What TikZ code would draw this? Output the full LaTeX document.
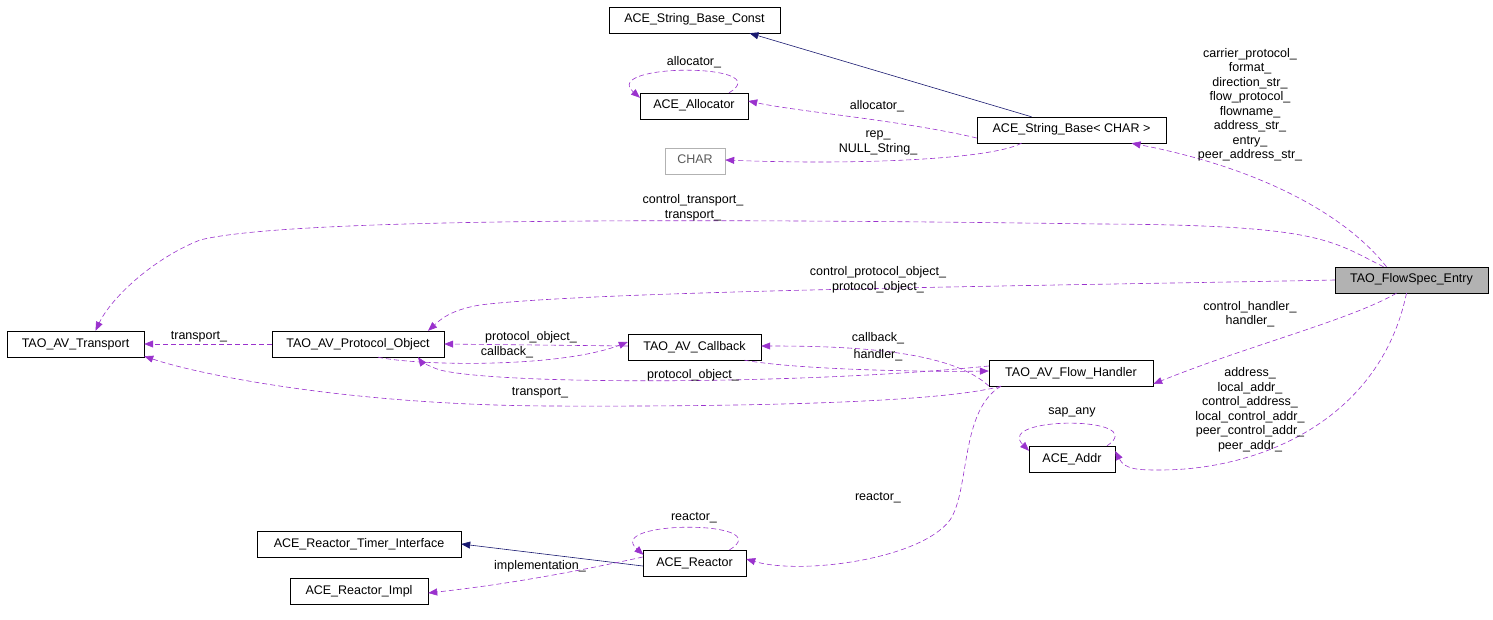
\documentclass[tikz,border=0pt]{standalone}
\usepackage{fontspec}
\setmainfont{Liberation Sans}
\usetikzlibrary{arrows.meta}
\definecolor{pur}{HTML}{9A32CD}
\definecolor{nav}{HTML}{191970}
\begin{document}
\begin{tikzpicture}[x=1pt,y=-1pt,
  every node/.style={font=\fontsize{12.5}{14.5}\selectfont},
  box/.style={draw,inner sep=0pt,minimum height=26pt,text height=9pt,text depth=3pt},
  lab/.style={align=center,inner sep=0pt},
  use/.style={draw=pur,line width=0.6pt,dash pattern=on 5pt off 3pt,-{Triangle[length=9pt,width=7pt]},fill=none},
  inh/.style={draw=nav,line width=0.6pt,-{Triangle[length=9pt,width=7pt]},fill=none},
]
\useasboundingbox (0,0) rectangle (1493,620);
\node[box,minimum width=171pt] (SBC) at (694.5,20) {ACE\_String\_Base\_Const};
\node[box,minimum width=108pt] (AL) at (694,106) {ACE\_Allocator};
\node[box,minimum width=60pt,draw=gray!60,text=gray!70!black] (CH) at (695,161) {CHAR};
\node[box,minimum width=189pt] (SB) at (1071.5,130) {ACE\_String\_Base< CHAR >};
\node[box,minimum width=153pt,fill=gray!60] (FS) at (1411.5,280) {TAO\_FlowSpec\_Entry};
\node[box,minimum width=137pt] (TR) at (75.5,344) {TAO\_AV\_Transport};
\node[box,minimum width=172pt] (PO) at (358,344) {TAO\_AV\_Protocol\_Object};
\node[box,minimum width=133pt] (CB) at (694.5,347) {TAO\_AV\_Callback};
\node[box,minimum width=164pt] (FH) at (1071,373) {TAO\_AV\_Flow\_Handler};
\node[box,minimum width=86pt] (AD) at (1072,459) {ACE\_Addr};
\node[box,minimum width=204pt] (RT) at (359,544) {ACE\_Reactor\_Timer\_Interface};
\node[box,minimum width=103pt] (RE) at (694.5,563) {ACE\_Reactor};
\node[box,minimum width=138pt] (RI) at (359,591) {ACE\_Reactor\_Impl};

% inheritance
\draw[inh] ([xshift=-40pt]SB.north) -- ([xshift=55pt]SBC.south);
\draw[inh] ([yshift=-3pt]RE.west) -- (RT.east);

% self loops
\draw[use] ([xshift=35pt]AL.north) .. controls +(50pt,30pt) and +(-40pt,35pt) .. ([xshift=-54pt,yshift=-5pt]AL.north);
\node[lab] (lAL) at (694,62) {allocator\_};
\draw[use] ([xshift=35pt]AD.north) .. controls +(45pt,30pt) and +(-35pt,35pt) .. ([xshift=-43pt,yshift=-5pt]AD.north);
\node[lab] (lAD) at (1072,412) {sap\_any};
\draw[use] ([xshift=35pt]RE.north) .. controls +(50pt,30pt) and +(-40pt,35pt) .. ([xshift=-51pt,yshift=-5pt]RE.north);
\node[lab] (lRE) at (694,518) {reactor\_};

% string base
\draw[use] ([yshift=-8pt]SB.west) .. controls (900,120) and (800,112) .. ([yshift=5pt]AL.east);
\node[lab] (l1) at (877,106) {allocator\_};
\draw[use] ([xshift=-50pt]SB.south) .. controls (990,160) and (850,165) .. ([yshift=1pt]CH.east);
\node[lab] (l2) at (878,143) {rep\_\\NULL\_String\_};

% flowspec edges
\draw[use] ([xshift=-25pt]FS.north) .. controls (1350,220) and (1270,170) .. ([xshift=60pt]SB.south);
\node[lab] (l3) at (1250,105) {carrier\_protocol\_\\format\_\\direction\_str\_\\flow\_protocol\_\\flowname\_\\address\_str\_\\entry\_\\peer\_address\_str\_};
\draw[use] ([xshift=-28pt]FS.north) .. controls (1330,240) and (1320,225) .. (1100,224)
  .. controls (800,220) and (300,215) .. (200,240) .. controls (150,260) and (110,300) .. ([xshift=20pt]TR.north);
\node[lab] (l4) at (693,208) {control\_transport\_\\transport\_};
\draw[use] (FS.west) .. controls (1100,285) and (600,290) .. (480,305) .. controls (450,310) and (440,320) .. ([xshift=70pt]PO.north);
\node[lab] (l5) at (878,280) {control\_protocol\_object\_\\protocol\_object\_};
\draw[use] ([xshift=-15pt]FS.south) .. controls (1350,320) and (1250,345) .. ([yshift=-11pt]FH.east);
\node[lab] (l6) at (1250,314) {control\_handler\_\\handler\_};
\draw[use] ([xshift=-5pt]FS.south) .. controls (1380,420) and (1260,470) .. (1160,470) .. controls (1140,470) and (1125,470) .. ([yshift=8pt]AD.east);
\node[lab] (l7) at (1250,410) {address\_\\local\_addr\_\\control\_address\_\\local\_control\_addr\_\\peer\_control\_addr\_\\peer\_addr\_};

% protocol object / callback / transport
\draw[use] (PO.west) -- (TR.east);
\node[lab] (l8) at (199,337) {transport\_};
\draw[use] ([yshift=1pt]CB.west) -- (PO.east);
\node[lab] (l9) at (531,337) {protocol\_object\_};
\draw[use] ([xshift=20pt]PO.south) .. controls (420,366) and (560,368) .. ([yshift=5pt]CB.west);
\node[lab] (l10) at (507,352) {callback\_};

% flow handler
\draw[use] ([yshift=-13pt]FH.west) .. controls (950,350) and (850,346) .. ([yshift=1pt]CB.east);
\node[lab] (l11) at (878,338) {callback\_};
\draw[use] ([xshift=50pt]CB.south) .. controls (800,370) and (930,372) .. ([yshift=2pt]FH.west);
\node[lab] (l12) at (878,355) {handler\_};
\draw[use] ([yshift=7pt]FH.west) .. controls (800,385) and (500,385) .. (440,370) .. controls (425,365) and (420,360) .. ([xshift=60pt]PO.south);
\node[lab] (l13) at (693,375) {protocol\_object\_};
\draw[use] ([xshift=-70pt]FH.south) .. controls (950,400) and (800,407) .. (550,406) .. controls (350,405) and (200,375) .. ([yshift=1pt]TR.south east);
\node[lab] (l14) at (540,393) {transport\_};
\draw[use] ([xshift=-70pt]FH.south) .. controls (960,410) and (970,490) .. (950,520) .. controls (920,560) and (800,575) .. ([yshift=4pt]RE.east);
\node[lab] (l15) at (878,498) {reactor\_};

% reactor
\draw[use] ([yshift=6pt]RE.west) .. controls (560,575) and (500,585) .. ([yshift=-2pt]RI.east);
\node[lab] (l16) at (540,566) {implementation\_};
\end{tikzpicture}
\end{document}
